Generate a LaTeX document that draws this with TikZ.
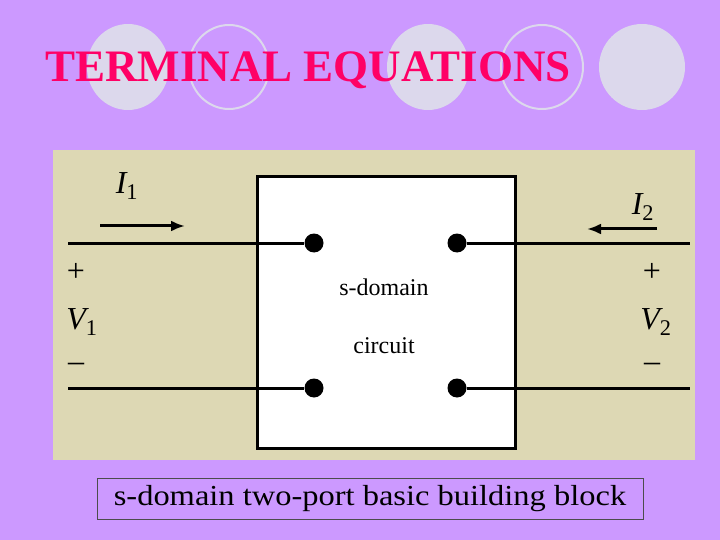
\documentclass[tikz,border=0pt]{standalone}
\usepackage{fontspec}
\setmainfont{Liberation Serif}
\begin{document}
\begin{tikzpicture}[x=1pt,y=-1pt,
  bub/.style={fill=bubc,draw=none},
  ring/.style={draw=bubc,line width=2pt},
  wire/.style={line width=3pt},
  arr/.style={line width=3pt,-{Latex[length=14pt,width=11pt]}},
  dot/.style={circle,fill=black,minimum size=19pt,inner sep=0},
  lab/.style={font=\fontsize{32}{32}\selectfont\itshape},
  sgn/.style={font=\fontsize{32}{32}\selectfont}]
\usetikzlibrary{arrows.meta}
\definecolor{bg}{HTML}{CC99FF}
\definecolor{bubc}{HTML}{DCD8EC}
\definecolor{tan}{HTML}{DDD8B4}
\definecolor{pink}{HTML}{FF0066}
\useasboundingbox (0,0) rectangle (720,540);
\fill[bg] (0,0) rectangle (720,540);
\fill[bub] (128,67) ellipse (41 and 43);
\draw[ring] (229,67) ellipse (40 and 42);
\fill[bub] (428,67) ellipse (41 and 43);
\draw[ring] (542,67) ellipse (41 and 42);
\fill[bub] (642,67) ellipse (43 and 43);
\node[anchor=base west,text=pink,font=\fontsize{45}{45}\selectfont\bfseries,inner sep=0,xscale=1.0] (title) at (45,82) {TERMINAL EQUATIONS};
\fill[tan] (53,150) rectangle (695,460);
\node[draw,line width=3pt,fill=white,minimum width=258pt,minimum height=271pt,inner sep=0] (box) at (386,312.5) {};
\node[dot] (d1) at (314,243) {};
\node[dot] (d2) at (457,243) {};
\node[dot] (d3) at (314,388) {};
\node[dot] (d4) at (457,388) {};
\coordinate (l1) at (68,243); \coordinate (r1) at (690,243);
\coordinate (l2) at (68,388); \coordinate (r2) at (690,388);
\draw[wire] (l1) -- (d1); \draw[wire] (d2) -- (r1);
\draw[wire] (l2) -- (d3); \draw[wire] (d4) -- (r2);
\coordinate (a1) at (100,226); \coordinate (b1) at (185,226);
\draw[arr] (a1) -- (b1);
\coordinate (a2) at (657,229); \coordinate (b2) at (587,229);
\draw[arr] (a2) -- (b2);
\node[lab] (i1) at (127,186) {I\textsubscript{\upshape 1}};
\node[lab] (i2) at (643,207) {I\textsubscript{\upshape 2}};
\node[sgn] (p1) at (76,272) {+};
\node[lab] (v1) at (82,322) {V\textsubscript{\upshape 1}};
\node[sgn] (m1) at (76,367) {\textendash};
\node[sgn] (p2) at (652,272) {+};
\node[lab] (v2) at (656,322) {V\textsubscript{\upshape 2}};
\node[sgn] (m2) at (652,367) {\textendash};
\node[font=\fontsize{24}{24}\selectfont] (t1) at (384,287) {s-domain};
\node[font=\fontsize{24}{24}\selectfont] (t2) at (384,346) {circuit};
\node[draw=black!70,line width=1pt,fill=bg,minimum width=546pt,minimum height=41pt,inner sep=0] (cap) at (370,498.5) {};
\node[font=\fontsize{29}{29}\selectfont,xscale=1.12] (capt) at (cap.center) {s-domain two-port basic building block};
\end{tikzpicture}
\end{document}
